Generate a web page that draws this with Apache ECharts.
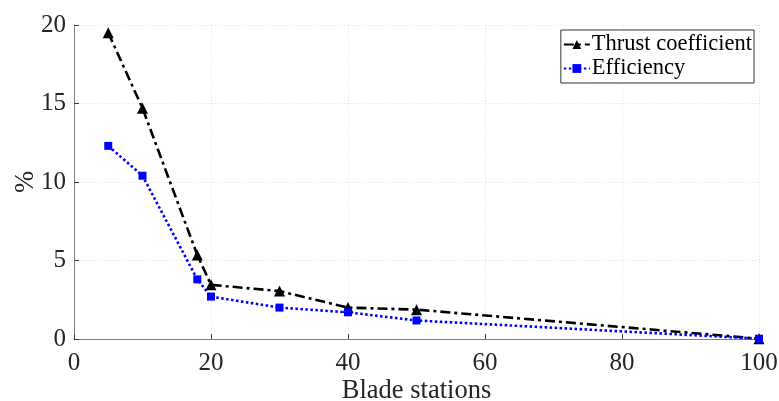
<!DOCTYPE html>
<html><head><meta charset="utf-8">
<script src="https://cdn.jsdelivr.net/npm/echarts@6/dist/echarts.min.js"></script>
<style>html,body{margin:0;padding:0;background:#fff}#c{width:779px;height:401px}</style>
</head><body><div id="c"></div>
<script>
const stations = [5, 10, 18, 20, 30, 40, 50, 100];
const thrust = [19.5, 14.7, 5.35, 3.45, 3.05, 2.0, 1.87, 0.02];
const efficiency = [12.3, 10.4, 3.8, 2.7, 2.0, 1.7, 1.18, 0.02];
const xTicks = [0, 20, 40, 60, 80, 100];
const yTicks = [0, 5, 10, 15, 20];

const font = 'Liberation Serif';
const chart = echarts.init(document.getElementById('c'));
chart.setOption({
  animation: false,
  grid: {left: 74, right: 20, top: 25, bottom: 62, containLabel: false, outerBoundsMode: 'none'},
  legend: {
    right: 25, top: 30, orient: 'vertical', itemGap: 1, itemWidth: 26, itemHeight: 11,
    borderColor: '#333', borderWidth: 1, padding: [3, 2, 3, 2], backgroundColor: '#fff',
    textStyle: {fontFamily: font, fontSize: 22.5, color: '#000', padding: [0, 0, 0, -3]},
    data: ['Thrust coefficient', 'Efficiency']
  },
  xAxis: {
    type: 'value', min: 0, max: 100, interval: 20,
    name: 'Blade stations', nameLocation: 'middle', nameGap: 39, nameMoveOverlap: false,
    nameTextStyle: {fontFamily: font, fontSize: 26.5, color: '#262626'},
    axisLine: {show: true, onZero: false, lineStyle: {color: '#808080', width: 1}},
    axisTick: {show: true, inside: true, length: 5, lineStyle: {color: '#404040'}},
    axisLabel: {fontFamily: font, fontSize: 25, color: '#262626', margin: 12,
      formatter: v => xTicks.includes(v) ? String(v) : ''},
    splitLine: {show: true, lineStyle: {color: '#e3e3e3', type: [1, 2]}}
  },
  yAxis: {
    type: 'value', min: 0, max: 20, interval: 5,
    name: '%', nameLocation: 'middle', nameGap: 34, nameRotate: 90, nameMoveOverlap: false,
    nameTextStyle: {fontFamily: font, fontSize: 26.5, color: '#262626'},
    axisLine: {show: true, lineStyle: {color: '#808080', width: 1}},
    axisTick: {show: true, inside: true, length: 5, lineStyle: {color: '#404040'}},
    axisLabel: {fontFamily: font, fontSize: 25, color: '#262626', margin: 8,
      formatter: v => yTicks.includes(v) ? String(v) : ''},
    splitLine: {show: true, lineStyle: {color: '#e3e3e3', type: [1, 2]}}
  },
  series: [
    {
      name: 'Thrust coefficient', type: 'line',
      data: stations.map((s, i) => [s, thrust[i]]),
      symbol: 'triangle', symbolSize: 11,
      itemStyle: {color: '#000'},
      lineStyle: {color: '#000', width: 2.6, type: [10, 4, 3, 4]},
      z: 3
    },
    {
      name: 'Efficiency', type: 'line',
      data: stations.map((s, i) => [s, efficiency[i]]),
      symbol: 'rect', symbolSize: 8,
      itemStyle: {color: '#0000ff'},
      lineStyle: {color: '#0000ff', width: 2.6, type: [2.5, 2.5]},
      z: 4
    }
  ]
});
</script></body></html>
